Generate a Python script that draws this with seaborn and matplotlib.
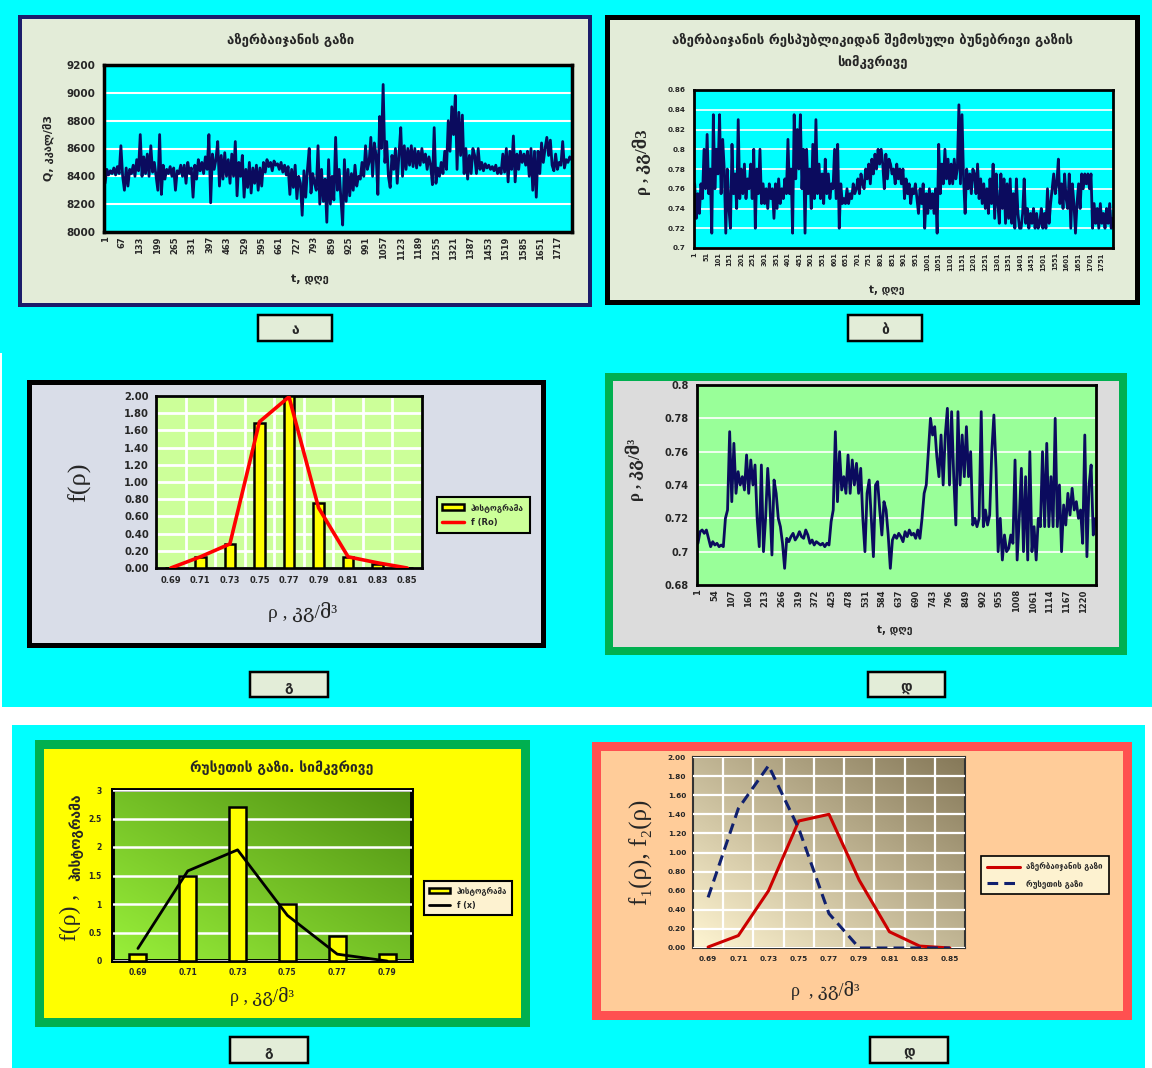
import numpy as np
import matplotlib
matplotlib.use("Agg")
import matplotlib.pyplot as plt
from matplotlib.patches import Rectangle, Patch
from matplotlib.lines import Line2D
import seaborn as sns

sns.set_style("white")
plt.rcParams['font.family'] = ['DejaVu Sans']
plt.rcParams['font.weight'] = 'bold'
plt.rcParams['axes.labelweight'] = 'bold'

# ---------------- data ----------------
# calorific value of Azerbaijani gas, sampled over days 1..1768
q_azer = [
    8350, 8450, 8410, 8440, 8420, 8460, 8410, 8470, 8420, 8620, 8400, 8300, 8460, 8330, 8450,
    8420, 8480, 8400, 8520, 8440, 8700, 8400, 8540, 8420, 8560, 8400, 8620, 8430, 8500, 8400,
    8300, 8700, 8270, 8480, 8380, 8450, 8420, 8470, 8400, 8460, 8300, 8440, 8420, 8480, 8400,
    8480, 8350, 8500, 8420, 8460, 8250, 8480, 8380, 8520, 8440, 8500, 8420, 8540, 8450, 8700,
    8210, 8560, 8450, 8520, 8650, 8330, 8550, 8380, 8570, 8400, 8520, 8350, 8560, 8400, 8650,
    8260, 8500, 8400, 8550, 8250, 8450, 8320, 8500, 8280, 8460, 8350, 8480, 8300, 8460, 8330,
    8500, 8430, 8520, 8470, 8500, 8440, 8510, 8480, 8490, 8450, 8500, 8430, 8480, 8410, 8470,
    8270, 8450, 8320, 8480, 8240, 8400, 8350, 8120, 8440, 8250, 8450, 8600, 8280, 8420, 8350,
    8300, 8620, 8200, 8450, 8220, 8380, 8070, 8520, 8200, 8400, 8230, 8680, 8300, 8450, 8240,
    8050, 8520, 8220, 8450, 8260, 8420, 8300, 8480, 8330, 8400, 8380, 8500, 8400, 8620, 8450,
    8500, 8680, 8400, 8640, 8550, 8270, 8830, 8600, 9060, 8500, 8650, 8400, 8320, 8550, 8450,
    8600, 8350, 8560, 8750, 8400, 8620, 8450, 8600, 8480, 8620, 8470, 8600, 8460, 8580, 8480,
    8600, 8500, 8560, 8450, 8540, 8480, 8340, 8750, 8350, 8460, 8400, 8500, 8420, 8580, 8450,
    8800, 8580, 8900, 8700, 8980, 8450, 8860, 8550, 8840, 8420, 8600, 8380, 8550, 8420, 8600,
    8550, 8420, 8600, 8450, 8500, 8440, 8490, 8460, 8480, 8450, 8470, 8440, 8480, 8420, 8460,
    8420, 8560, 8430, 8600, 8360, 8580, 8450, 8690, 8360, 8560, 8450, 8580, 8500, 8560, 8480,
    8580, 8400, 8600, 8300, 8580, 8250, 8580, 8420, 8640, 8500, 8600, 8680, 8550, 8660, 8480,
    8440, 8560, 8450, 8500, 8480, 8650, 8460, 8520, 8500, 8540, 8520,
]
q_ticks = [1, 67, 133, 199, 265, 331, 397, 463, 529, 595, 661, 727, 793, 859,
           925, 991, 1057, 1123, 1189, 1255, 1321, 1387, 1453, 1519, 1585, 1651, 1717]

# density of Azerbaijani gas, sampled over days 1..1800
rho_azer = [
    0.765, 0.73, 0.755, 0.735, 0.765, 0.75, 0.80, 0.76, 0.815, 0.755, 0.78, 0.715, 0.835, 0.76, 0.80,
    0.775, 0.835, 0.755, 0.81, 0.78, 0.715, 0.78, 0.74, 0.72, 0.805, 0.755, 0.775, 0.74, 0.83, 0.75,
    0.78, 0.755, 0.785, 0.75, 0.77, 0.76, 0.785, 0.75, 0.80, 0.72, 0.78, 0.755, 0.80, 0.745, 0.765,
    0.745, 0.76, 0.74, 0.765, 0.75, 0.76, 0.73, 0.765, 0.74, 0.77, 0.745, 0.76, 0.75, 0.77, 0.755,
    0.81, 0.755, 0.78, 0.715, 0.835, 0.77, 0.82, 0.78, 0.835, 0.76, 0.80, 0.715, 0.80, 0.755, 0.78,
    0.74, 0.805, 0.75, 0.83, 0.755, 0.785, 0.75, 0.775, 0.745, 0.79, 0.755, 0.775, 0.75, 0.765, 0.76,
    0.80, 0.75, 0.805, 0.72, 0.765, 0.745, 0.75, 0.745, 0.76, 0.745, 0.755, 0.75, 0.765, 0.755, 0.76,
    0.77, 0.755, 0.775, 0.765, 0.76, 0.78, 0.77, 0.785, 0.765, 0.79, 0.775, 0.795, 0.78, 0.80, 0.785,
    0.80, 0.785, 0.76, 0.795, 0.77, 0.79, 0.785, 0.775, 0.78, 0.765, 0.785, 0.77, 0.78, 0.765, 0.78,
    0.75, 0.77, 0.755, 0.765, 0.745, 0.76, 0.755, 0.765, 0.75, 0.735, 0.76, 0.745, 0.765, 0.72, 0.755,
    0.735, 0.76, 0.74, 0.755, 0.735, 0.76, 0.715, 0.805, 0.755, 0.785, 0.765, 0.80, 0.77, 0.79, 0.765,
    0.785, 0.765, 0.79, 0.77, 0.78, 0.845, 0.765, 0.835, 0.77, 0.735, 0.78, 0.76, 0.775, 0.755, 0.78,
    0.775, 0.755, 0.785, 0.75, 0.77, 0.745, 0.765, 0.74, 0.76, 0.735, 0.77, 0.745, 0.785, 0.73, 0.775,
    0.745, 0.725, 0.775, 0.74, 0.77, 0.725, 0.765, 0.73, 0.77, 0.725, 0.755, 0.72, 0.77, 0.735, 0.72,
    0.72, 0.735, 0.77, 0.725, 0.74, 0.72, 0.735, 0.725, 0.74, 0.72, 0.735, 0.72, 0.725, 0.74, 0.72,
    0.735, 0.72, 0.76, 0.725, 0.745, 0.76, 0.775, 0.755, 0.765, 0.79, 0.745, 0.765, 0.74, 0.775, 0.75,
    0.74, 0.775, 0.72, 0.765, 0.745, 0.715, 0.745, 0.765, 0.74, 0.775, 0.76, 0.775, 0.765, 0.775, 0.76,
    0.775, 0.72, 0.745, 0.725, 0.74, 0.72, 0.745, 0.725, 0.735, 0.72, 0.74, 0.725, 0.745, 0.72, 0.73,
]
rho_azer_ticks = list(range(1, 1752, 50))

# density of Russian gas, sampled over days 1..1258
rho_rus = [
    0.705, 0.712, 0.713, 0.711, 0.713, 0.708, 0.703, 0.706, 0.704, 0.705, 0.703, 0.704, 0.703, 0.72, 0.725,
    0.772, 0.73, 0.765, 0.735, 0.748, 0.74, 0.745, 0.737, 0.758, 0.735, 0.755, 0.74, 0.752, 0.72, 0.703,
    0.752, 0.70, 0.72, 0.75, 0.73, 0.698, 0.743, 0.735, 0.72, 0.715, 0.705, 0.69, 0.708, 0.706, 0.709,
    0.711, 0.707, 0.709, 0.712, 0.709, 0.708, 0.713, 0.71, 0.705, 0.707, 0.704, 0.706, 0.705, 0.704, 0.705,
    0.703, 0.705, 0.704, 0.718, 0.725, 0.772, 0.73, 0.76, 0.737, 0.745, 0.735, 0.758, 0.735, 0.755, 0.74,
    0.753, 0.735, 0.75, 0.72, 0.70, 0.735, 0.743, 0.72, 0.697, 0.74, 0.742, 0.725, 0.71, 0.73, 0.725,
    0.71, 0.69, 0.707, 0.71, 0.708, 0.711, 0.709, 0.706, 0.712, 0.709, 0.713, 0.71, 0.711, 0.708, 0.713,
    0.708, 0.72, 0.735, 0.74, 0.76, 0.78, 0.77, 0.775, 0.757, 0.745, 0.77, 0.74, 0.77, 0.786, 0.74,
    0.784, 0.745, 0.716, 0.784, 0.74, 0.77, 0.745, 0.775, 0.745, 0.76, 0.716, 0.72, 0.715, 0.72, 0.784,
    0.715, 0.725, 0.716, 0.722, 0.76, 0.782, 0.75, 0.70, 0.72, 0.695, 0.71, 0.70, 0.702, 0.71, 0.705,
    0.755, 0.695, 0.72, 0.75, 0.70, 0.745, 0.695, 0.76, 0.70, 0.715, 0.695, 0.72, 0.715, 0.76, 0.715,
    0.765, 0.715, 0.745, 0.715, 0.78, 0.715, 0.74, 0.70, 0.728, 0.716, 0.735, 0.722, 0.738, 0.725, 0.73,
    0.72, 0.725, 0.705, 0.77, 0.697, 0.74, 0.752, 0.71, 0.72,
]
rho_rus_ticks = list(range(1, 1221, 53))

# density histograms and fitted densities
bins_az = ["0.69", "0.71", "0.73", "0.75", "0.77", "0.79", "0.81", "0.83", "0.85"]
hist_az = [0.00, 0.13, 0.28, 1.69, 2.00, 0.76, 0.13, 0.05, 0.00]
fit_az = [0.00, 0.13, 0.28, 1.70, 1.99, 0.70, 0.13, 0.06, 0.00]

bins_ru = ["0.69", "0.71", "0.73", "0.75", "0.77", "0.79"]
hist_ru = [0.13, 1.50, 2.70, 1.00, 0.43, 0.13]
fit_ru = [0.22, 1.58, 1.95, 0.80, 0.12, 0.00]

f1_az = [0.01, 0.13, 0.60, 1.33, 1.40, 0.71, 0.17, 0.02, 0.00]
f2_ru = [0.53, 1.46, 1.91, 1.25, 0.36, 0.00, 0.00, 0.00, 0.00]

# ---------------- layout helpers ----------------
W, H = 1152, 1068
fig = plt.figure(figsize=(W / 100, H / 100), dpi=100)
fig.patch.set_facecolor('white')
PT = 0.72  # points per pixel


def fx(x):
    return x / W


def fy(y):
    return 1 - y / H


def box(x0, y0, x1, y1, fc, ec='none', lw_px=0, z=-5):
    r = Rectangle((fx(x0), fy(y1)), (x1 - x0) / W, (y1 - y0) / H,
                  transform=fig.transFigure, facecolor=fc, edgecolor=ec,
                  linewidth=lw_px * PT, zorder=z)
    fig.add_artist(r)


def frame(x0, y0, x1, y1, fc, ec, lw_px):
    # border drawn as outer rectangle with the face inset
    box(x0, y0, x1, y1, ec, z=-6)
    box(x0 + lw_px, y0 + lw_px, x1 - lw_px, y1 - lw_px, fc, z=-5)


def new_axes(x0, y0, x1, y1):
    return fig.add_axes([fx(x0), fy(y1), (x1 - x0) / W, (y1 - y0) / H])


def text(x, y, s, **kw):
    kw.setdefault('ha', 'center')
    kw.setdefault('va', 'center')
    fig.text(fx(x), fy(y), s, **kw)


def tag(x0, y0, x1, y1, s):
    box(x0, y0, x1, y1, '#e3edd8', ec='black', lw_px=2.5, z=1)
    text((x0 + x1) / 2, (y0 + y1) / 2 + 2, s, fontsize=10)


def style_spines(ax, color='black', lw=2.0):
    for sp in ax.spines.values():
        sp.set_visible(True)
        sp.set_color(color)
        sp.set_linewidth(lw)


def gradient(ax, c0, c1):
    c0 = np.array(matplotlib.colors.to_rgb(c0))
    c1 = np.array(matplotlib.colors.to_rgb(c1))
    xx, yy = np.meshgrid(np.linspace(0, 1, 200), np.linspace(0, 1, 200))
    t = (xx + yy) / 2
    img = c0[None, None, :] * (1 - t[..., None]) + c1[None, None, :] * t[..., None]
    ax.imshow(img, extent=[0, 1, 0, 1], transform=ax.transAxes, origin='lower',
              aspect='auto', zorder=-2, interpolation='bilinear')


def grid_zorder(ax, z=1):
    for t in ax.xaxis.get_major_ticks() + ax.xaxis.get_minor_ticks() + \
            ax.yaxis.get_major_ticks():
        t.gridline.set_zorder(z)


serif = ['Liberation Serif', 'DejaVu Serif', 'DejaVu Sans']
NAVY = '#0b0b5e'
TS_LW = 2.0

# cyan page blocks
box(0, 0, W, 353, '#00ffff', z=-10)
box(2, 353, W, 707, '#00ffff', z=-10)
box(12, 725, 1145, H, '#00ffff', z=-10)

# ---------------- panel ა: calorific value ----------------
frame(18, 15, 592, 307, '#e3ecd8', '#1c1c6a', 4)
ax = new_axes(104, 65, 572, 232)
ax.set_facecolor('#00ffff')
days = np.linspace(1, 1768, len(q_azer))
sns.lineplot(x=days, y=q_azer, ax=ax, color=NAVY, linewidth=TS_LW)
ax.set_xlim(-3, 1770)
ax.set_ylim(8000, 9200)
ax.set_yticks(range(8000, 9201, 200))
ax.set_xticks(q_ticks)
ax.set_xticklabels([str(t) for t in q_ticks], rotation=90, fontsize=6)
ax.tick_params(axis='y', labelsize=7.5, length=0, pad=6)
ax.tick_params(axis='x', length=0, pad=3)
ax.grid(axis='y', color='white', linewidth=1.5)
ax.set_axisbelow(True)
ax.set_xlabel('')
ax.set_ylabel('')
style_spines(ax, lw=2.5)
text(291, 40, 'აზერბაიჯანის გაზი', fontsize=9.5)
text(48, 148, 'Q, კკალ/მ3', fontsize=8, rotation=90)
text(310, 280, 't, დღე', fontsize=8)
tag(258, 315, 332, 341, 'ა')

# ---------------- panel ბ: density, Azerbaijan ----------------
frame(605, 15, 1140, 305, '#e3ecd8', 'black', 5)
ax = new_axes(694, 90, 1113, 248)
ax.set_facecolor('#00ffff')
days = np.linspace(1, 1800, len(rho_azer))
sns.lineplot(x=days, y=rho_azer, ax=ax, color=NAVY, linewidth=TS_LW)
ax.set_xlim(-2, 1801)
ax.set_ylim(0.7, 0.86)
yt = np.round(np.arange(0.70, 0.861, 0.02), 2)
ax.set_yticks(yt)
ax.set_yticklabels([f'{v:g}' for v in yt])
ax.set_xticks(rho_azer_ticks)
ax.set_xticklabels([str(t) for t in rho_azer_ticks], rotation=90, fontsize=4.8)
ax.tick_params(axis='y', labelsize=5.2, length=0, pad=6)
ax.tick_params(axis='x', length=0, pad=3)
ax.grid(axis='y', color='white', linewidth=1.2)
ax.set_axisbelow(True)
ax.set_xlabel('')
ax.set_ylabel('')
style_spines(ax, lw=2.0)
text(872, 40, 'აზერბაიჯანის რესპუბლიკიდან შემოსული ბუნებრივი გაზის', fontsize=9.5)
text(872, 62, 'სიმკვრივე', fontsize=9.5)
text(642, 162, 'ρ , კგ/მ3', fontsize=12, rotation=90, family=serif)
text(887, 290, 't, დღე', fontsize=7.5)
tag(848, 315, 922, 341, 'ბ')

# ---------------- panel გ: histogram, Azerbaijan ----------------
frame(27, 380, 546, 648, '#d9dde8', 'black', 5)
ax = new_axes(156, 396, 422, 568)
ax.set_facecolor('#ccff99')
sns.barplot(x=bins_az, y=hist_az, ax=ax, color='#ffff00', saturation=1,
            edgecolor='black', linewidth=1.8, width=0.36, zorder=3)
sns.lineplot(x=np.arange(len(bins_az)), y=fit_az, ax=ax, color='red',
             linewidth=2.6, zorder=4)
ax.set_xlim(-0.5, len(bins_az) - 0.5)
ax.set_ylim(0, 2.0)
yt = np.round(np.arange(0, 2.01, 0.2), 2)
ax.set_yticks(yt)
ax.set_yticklabels([f'{v:.2f}' for v in yt])
ax.set_xticks(np.arange(len(bins_az)))
ax.set_xticklabels(bins_az)
ax.set_xticks(np.arange(len(bins_az) - 1) + 0.5, minor=True)
ax.tick_params(axis='y', labelsize=7.2, length=0, pad=5)
ax.tick_params(axis='x', labelsize=6, length=0, pad=6)
ax.tick_params(which='minor', length=0)
ax.grid(axis='y', which='major', color='white', linewidth=2)
ax.grid(axis='x', which='minor', color='white', linewidth=2)
ax.grid(axis='x', which='major', visible=False)
ax.set_axisbelow(True)
ax.set_xlabel('')
ax.set_ylabel('')
style_spines(ax, lw=2.0)
leg = ax.legend(handles=[Patch(facecolor='#ffff00', edgecolor='black', linewidth=1.8, label='ჰისტოგრამა'),
                         Line2D([], [], color='red', linewidth=2.5, label='f (Ro)')],
                loc='center', bbox_to_anchor=(fx(483), fy(515)), bbox_transform=fig.transFigure,
                frameon=True, fancybox=False, edgecolor='black', facecolor='#ccff99',
                framealpha=1, fontsize=6, handlelength=2.6, borderpad=0.7, labelspacing=0.8)
leg.get_frame().set_linewidth(1.5)
text(80, 482, 'f(ρ)', fontsize=19, rotation=90, family=serif, fontweight='normal')
text(303, 612, 'ρ , კგ/მ³', fontsize=14, family=serif, fontweight='normal')
tag(250, 672, 328, 697, 'გ')

# ---------------- panel დ: density, Russia ----------------
frame(605, 373, 1127, 655, '#dcdcdc', '#00b050', 8)
ax = new_axes(697, 385, 1096, 585)
ax.set_facecolor('#99ff99')
days = np.linspace(1, 1258, len(rho_rus))
sns.lineplot(x=days, y=rho_rus, ax=ax, color=NAVY, linewidth=TS_LW)
ax.set_xlim(-2, 1260)
ax.set_ylim(0.68, 0.80)
yt = np.round(np.arange(0.68, 0.801, 0.02), 2)
ax.set_yticks(yt)
ax.set_yticklabels([f'{v:g}' for v in yt])
ax.set_xticks(rho_rus_ticks)
ax.set_xticklabels([str(t) for t in rho_rus_ticks], rotation=90, fontsize=6)
ax.tick_params(axis='y', labelsize=7, length=0, pad=6)
ax.tick_params(axis='x', length=0, pad=3)
ax.grid(axis='y', color='white', linewidth=1.2)
ax.set_axisbelow(True)
ax.set_xlabel('')
ax.set_ylabel('')
style_spines(ax, lw=2.0)
text(635, 470, 'ρ , კგ/მ³', fontsize=12, rotation=90, family=serif)
text(895, 630, 't, დღე', fontsize=7.5)
tag(868, 672, 945, 697, 'დ')

# ---------------- panel გ (bottom): histogram, Russia ----------------
frame(35, 740, 530, 1027, '#ffff00', '#00b050', 9)
ax = new_axes(113, 790, 412, 961)
gradient(ax, '#99f03a', '#4f9012')
sns.barplot(x=bins_ru, y=hist_ru, ax=ax, color='#ffff00', saturation=1,
            edgecolor='black', linewidth=1.8, width=0.34, zorder=3)
sns.lineplot(x=np.arange(len(bins_ru)), y=fit_ru, ax=ax, color='black',
             linewidth=2.0, zorder=4)
ax.set_xlim(-0.5, len(bins_ru) - 0.5)
ax.set_ylim(0, 3)
yt = [0, 0.5, 1, 1.5, 2, 2.5, 3]
ax.set_yticks(yt)
ax.set_yticklabels([f'{v:g}' for v in yt])
ax.tick_params(axis='y', labelsize=5.5, length=0, pad=8)
ax.tick_params(axis='x', labelsize=5.5, length=0, pad=5)
ax.grid(axis='y', color='white', linewidth=1.8)
ax.set_axisbelow(False)
grid_zorder(ax, 1)
ax.set_xlabel('')
ax.set_ylabel('')
style_spines(ax, lw=2.8)
leg = ax.legend(handles=[Patch(facecolor='#ffff00', edgecolor='black', linewidth=1.8, label='ჰისტოგრამა'),
                         Line2D([], [], color='black', linewidth=2.0, label='f (x)')],
                loc='center', bbox_to_anchor=(fx(468), fy(898)), bbox_transform=fig.transFigure,
                frameon=True, fancybox=False, edgecolor='black', facecolor='#fdf2d0',
                framealpha=1, fontsize=5.8, handlelength=2.6, borderpad=0.6, labelspacing=0.7)
leg.get_frame().set_linewidth(1.5)
text(282, 768, 'რუსეთის გაზი. სიმკვრივე', fontsize=10)
text(70, 917, 'f(ρ) ,', fontsize=17, rotation=90, family=serif, fontweight='normal')
text(76, 837, 'ჰისტოგრამა', fontsize=10, rotation=90)
text(262, 996, 'ρ , კგ/მ³', fontsize=13, family=serif, fontweight='normal')
tag(230, 1037, 308, 1063, 'გ')

# ---------------- panel დ (bottom): density comparison ----------------
frame(592, 742, 1132, 1020, '#ffcc99', '#ff5050', 9)
ax = new_axes(693, 757, 965, 948)
gradient(ax, '#fff5d2', '#857858')
sns.lineplot(x=np.arange(len(bins_az)), y=f1_az, ax=ax, color='#cc0000',
             linewidth=2.2, zorder=4)
sns.lineplot(x=np.arange(len(bins_az)), y=f2_ru, ax=ax, color='#10206e',
             linewidth=2.2, zorder=4)
ax.lines[-1].set_dashes([3.5, 2])
ax.set_xlim(-0.5, len(bins_az) - 0.5)
ax.set_ylim(0, 2.0)
yt = np.round(np.arange(0, 2.01, 0.2), 2)
ax.set_yticks(yt)
ax.set_yticklabels([f'{v:.2f}' for v in yt])
ax.set_xticks(np.arange(len(bins_az)))
ax.set_xticklabels(bins_az)
ax.set_xticks(np.arange(len(bins_az) - 1) + 0.5, minor=True)
ax.tick_params(axis='y', labelsize=5.3, length=0, pad=5)
ax.tick_params(axis='x', labelsize=5.3, length=0, pad=6)
ax.tick_params(which='minor', length=0)
ax.grid(axis='y', which='major', color='white', linewidth=1.6)
ax.grid(axis='x', which='minor', color='white', linewidth=1.6)
ax.grid(axis='x', which='major', visible=False)
ax.set_axisbelow(False)
grid_zorder(ax, 1)
ax.set_xlabel('')
ax.set_ylabel('')
style_spines(ax, color='#333333', lw=1.5)
leg = ax.legend(handles=[Line2D([], [], color='#cc0000', linewidth=2.2, label='აზერბაიჯანის გაზი'),
                         Line2D([], [], color='#10206e', linewidth=2.2, dashes=[3.5, 2], label='რუსეთის გაზი')],
                loc='center', bbox_to_anchor=(fx(1045), fy(875)), bbox_transform=fig.transFigure,
                frameon=True, fancybox=False, edgecolor='black', facecolor='#fdf2d0',
                framealpha=1, fontsize=5.8, handlelength=4.0, borderpad=0.8, labelspacing=0.9)
leg.get_frame().set_linewidth(1.2)
text(641, 852, 'f₁(ρ), f₂(ρ)', fontsize=18, rotation=90, family=serif, fontweight='normal')
text(825, 990, 'ρ  , კგ/მ³', fontsize=13, family=serif, fontweight='normal')
tag(870, 1037, 948, 1063, 'დ')

fig.savefig('out.png', dpi=100)
